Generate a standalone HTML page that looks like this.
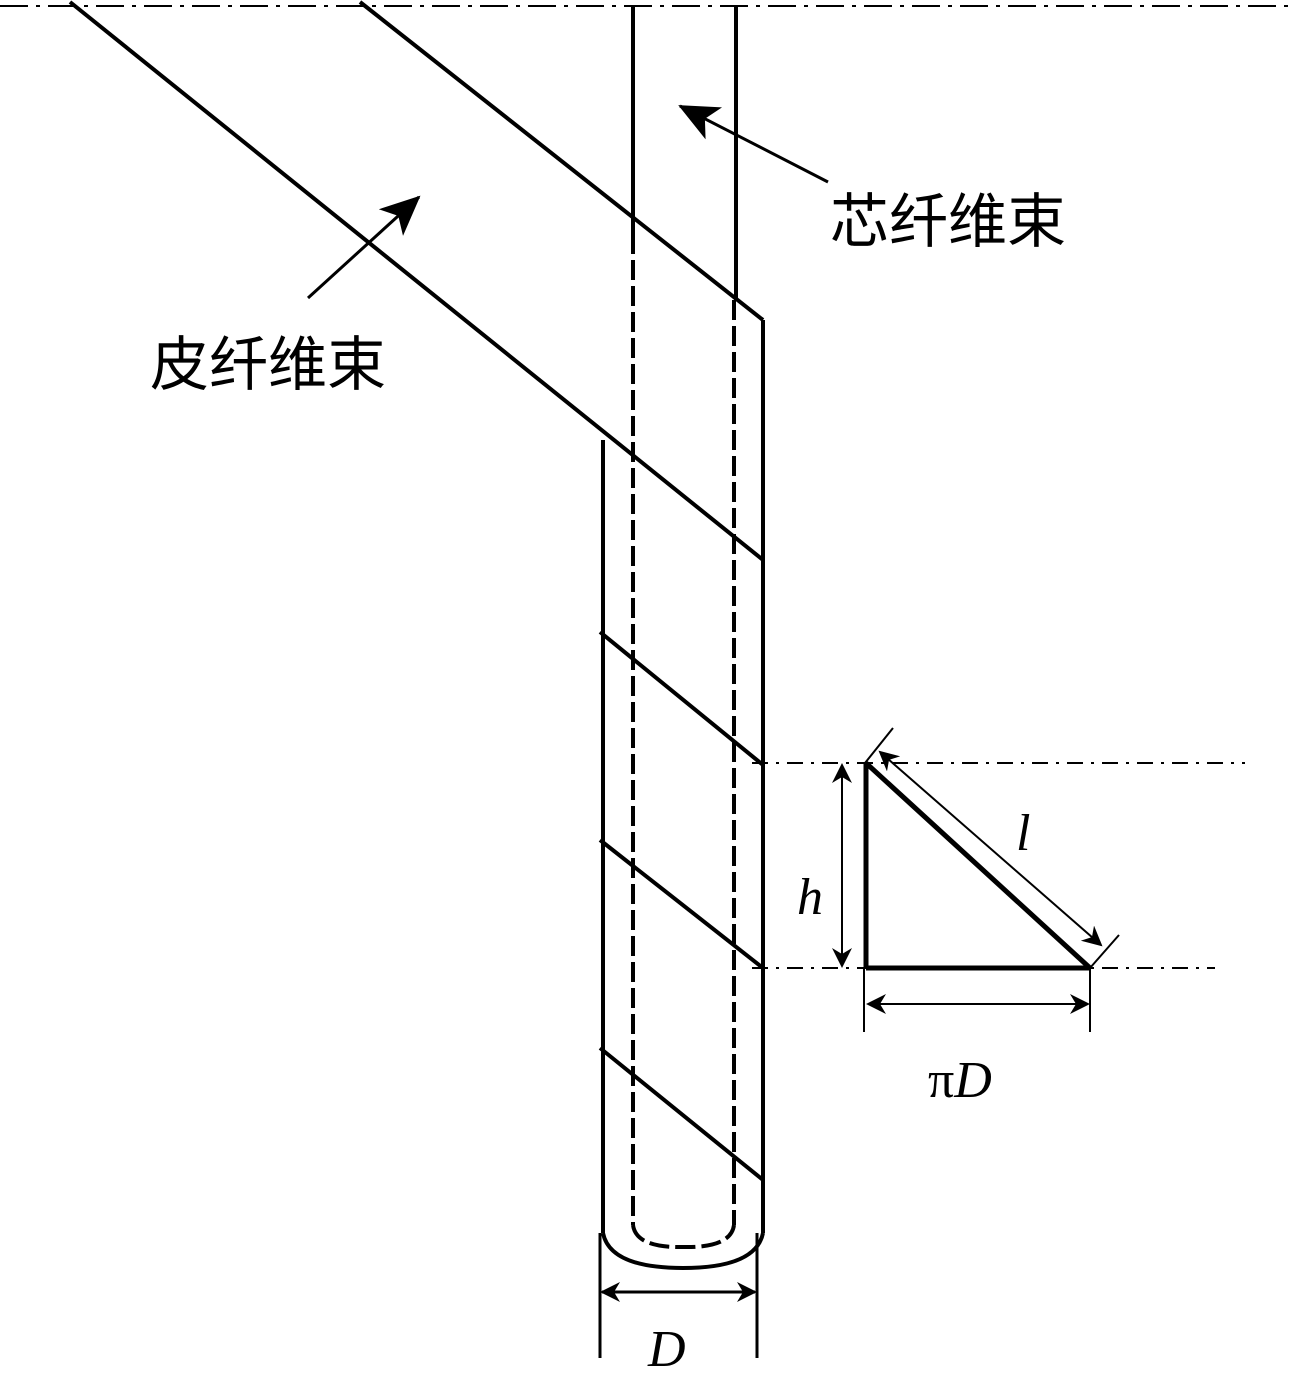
<!DOCTYPE html>
<html><head><meta charset="utf-8"><style>
html,body{margin:0;padding:0;background:#fff}
svg{display:block}
text{font-family:"Liberation Serif","Noto Serif CJK SC",serif;fill:#000}
</style></head><body>
<svg width="1291" height="1383" viewBox="0 0 1291 1383" xmlns="http://www.w3.org/2000/svg">
<defs>
<marker id="ah" viewBox="0 0 20 20" refX="18" refY="10" markerWidth="20" markerHeight="20" markerUnits="userSpaceOnUse" orient="auto-start-reverse">
<path d="M0,0 L20,10 L0,20 L6,10 Z" fill="#000"/>
</marker>
<marker id="big" viewBox="0 0 40 40" refX="38" refY="20" markerWidth="40" markerHeight="40" markerUnits="userSpaceOnUse" orient="auto">
<path d="M0,2 L40,20 L0,38 L10,20 Z" fill="#000"/>
</marker>
</defs>
<g stroke="#000" fill="none">
<line x1="0" y1="6" x2="1291" y2="6" stroke-width="2" stroke-dasharray="28,8,4,8"/>
<line x1="633" y1="6" x2="633" y2="234" stroke-width="4"/>
<line x1="736" y1="6" x2="736" y2="300" stroke-width="4"/>
<line x1="633" y1="234" x2="633" y2="1225" stroke-width="4" stroke-dasharray="20,6"/>
<line x1="734" y1="300" x2="734" y2="1225" stroke-width="4" stroke-dasharray="20,6"/>
<path d="M633,1225 Q636,1248 683,1247 Q731,1248 734,1225" stroke-width="4" stroke-dasharray="20,6"/>
<line x1="603" y1="440" x2="603" y2="1233" stroke-width="4"/>
<line x1="763" y1="320" x2="763" y2="1233" stroke-width="4"/>
<path d="M603,1233 Q610,1268 683,1268 Q756,1268 763,1233" stroke-width="4"/>
<line x1="70" y1="2" x2="763" y2="560" stroke-width="4"/>
<line x1="360" y1="2" x2="763" y2="320" stroke-width="4"/>
<line x1="600" y1="632" x2="763" y2="765" stroke-width="4"/>
<line x1="600" y1="840" x2="763" y2="968" stroke-width="4"/>
<line x1="600" y1="1048" x2="763" y2="1180" stroke-width="4"/>
<line x1="308" y1="298" x2="419" y2="197" stroke-width="3" marker-end="url(#big)"/>
<line x1="828" y1="182" x2="680" y2="106" stroke-width="3" marker-end="url(#big)"/>
<line x1="600" y1="1233" x2="600" y2="1358" stroke-width="3"/>
<line x1="757" y1="1233" x2="757" y2="1358" stroke-width="3"/>
<line x1="602" y1="1292" x2="755" y2="1292" stroke-width="3" marker-start="url(#ah)" marker-end="url(#ah)"/>
<line x1="752" y1="763" x2="1245" y2="763" stroke-width="2" stroke-dasharray="16,8,3,8"/>
<line x1="752" y1="968" x2="1215" y2="968" stroke-width="2" stroke-dasharray="16,8,3,8"/>
<line x1="866" y1="763" x2="866" y2="968" stroke-width="5"/>
<line x1="866" y1="968" x2="1090" y2="968" stroke-width="5"/>
<line x1="866" y1="763" x2="1090" y2="968" stroke-width="5"/>
<line x1="842" y1="765" x2="842" y2="966" stroke-width="2" marker-start="url(#ah)" marker-end="url(#ah)"/>
<line x1="880" y1="752" x2="1101" y2="945" stroke-width="2" marker-start="url(#ah)" marker-end="url(#ah)"/>
<line x1="865" y1="763" x2="893" y2="728" stroke-width="2"/>
<line x1="1090" y1="968" x2="1119" y2="935" stroke-width="2"/>
<line x1="864" y1="968" x2="864" y2="1032" stroke-width="2"/>
<line x1="1090" y1="968" x2="1090" y2="1032" stroke-width="2"/>
<line x1="868" y1="1004" x2="1088" y2="1004" stroke-width="2" marker-start="url(#ah)" marker-end="url(#ah)"/>
</g>
<text x="830" y="242" font-size="59" style="font-family:'Noto Sans CJK SC',sans-serif">芯纤维束</text>
<text x="150" y="385" font-size="59" style="font-family:'Noto Sans CJK SC',sans-serif">皮纤维束</text>
<text x="797" y="914" font-size="52" font-style="italic">h</text>
<text x="1016" y="850" font-size="52" font-style="italic">l</text>
<text x="928" y="1097" font-size="52">π<tspan font-style="italic">D</tspan></text>
<text x="648" y="1366" font-size="52" font-style="italic">D</text>
</svg>
</body></html>
